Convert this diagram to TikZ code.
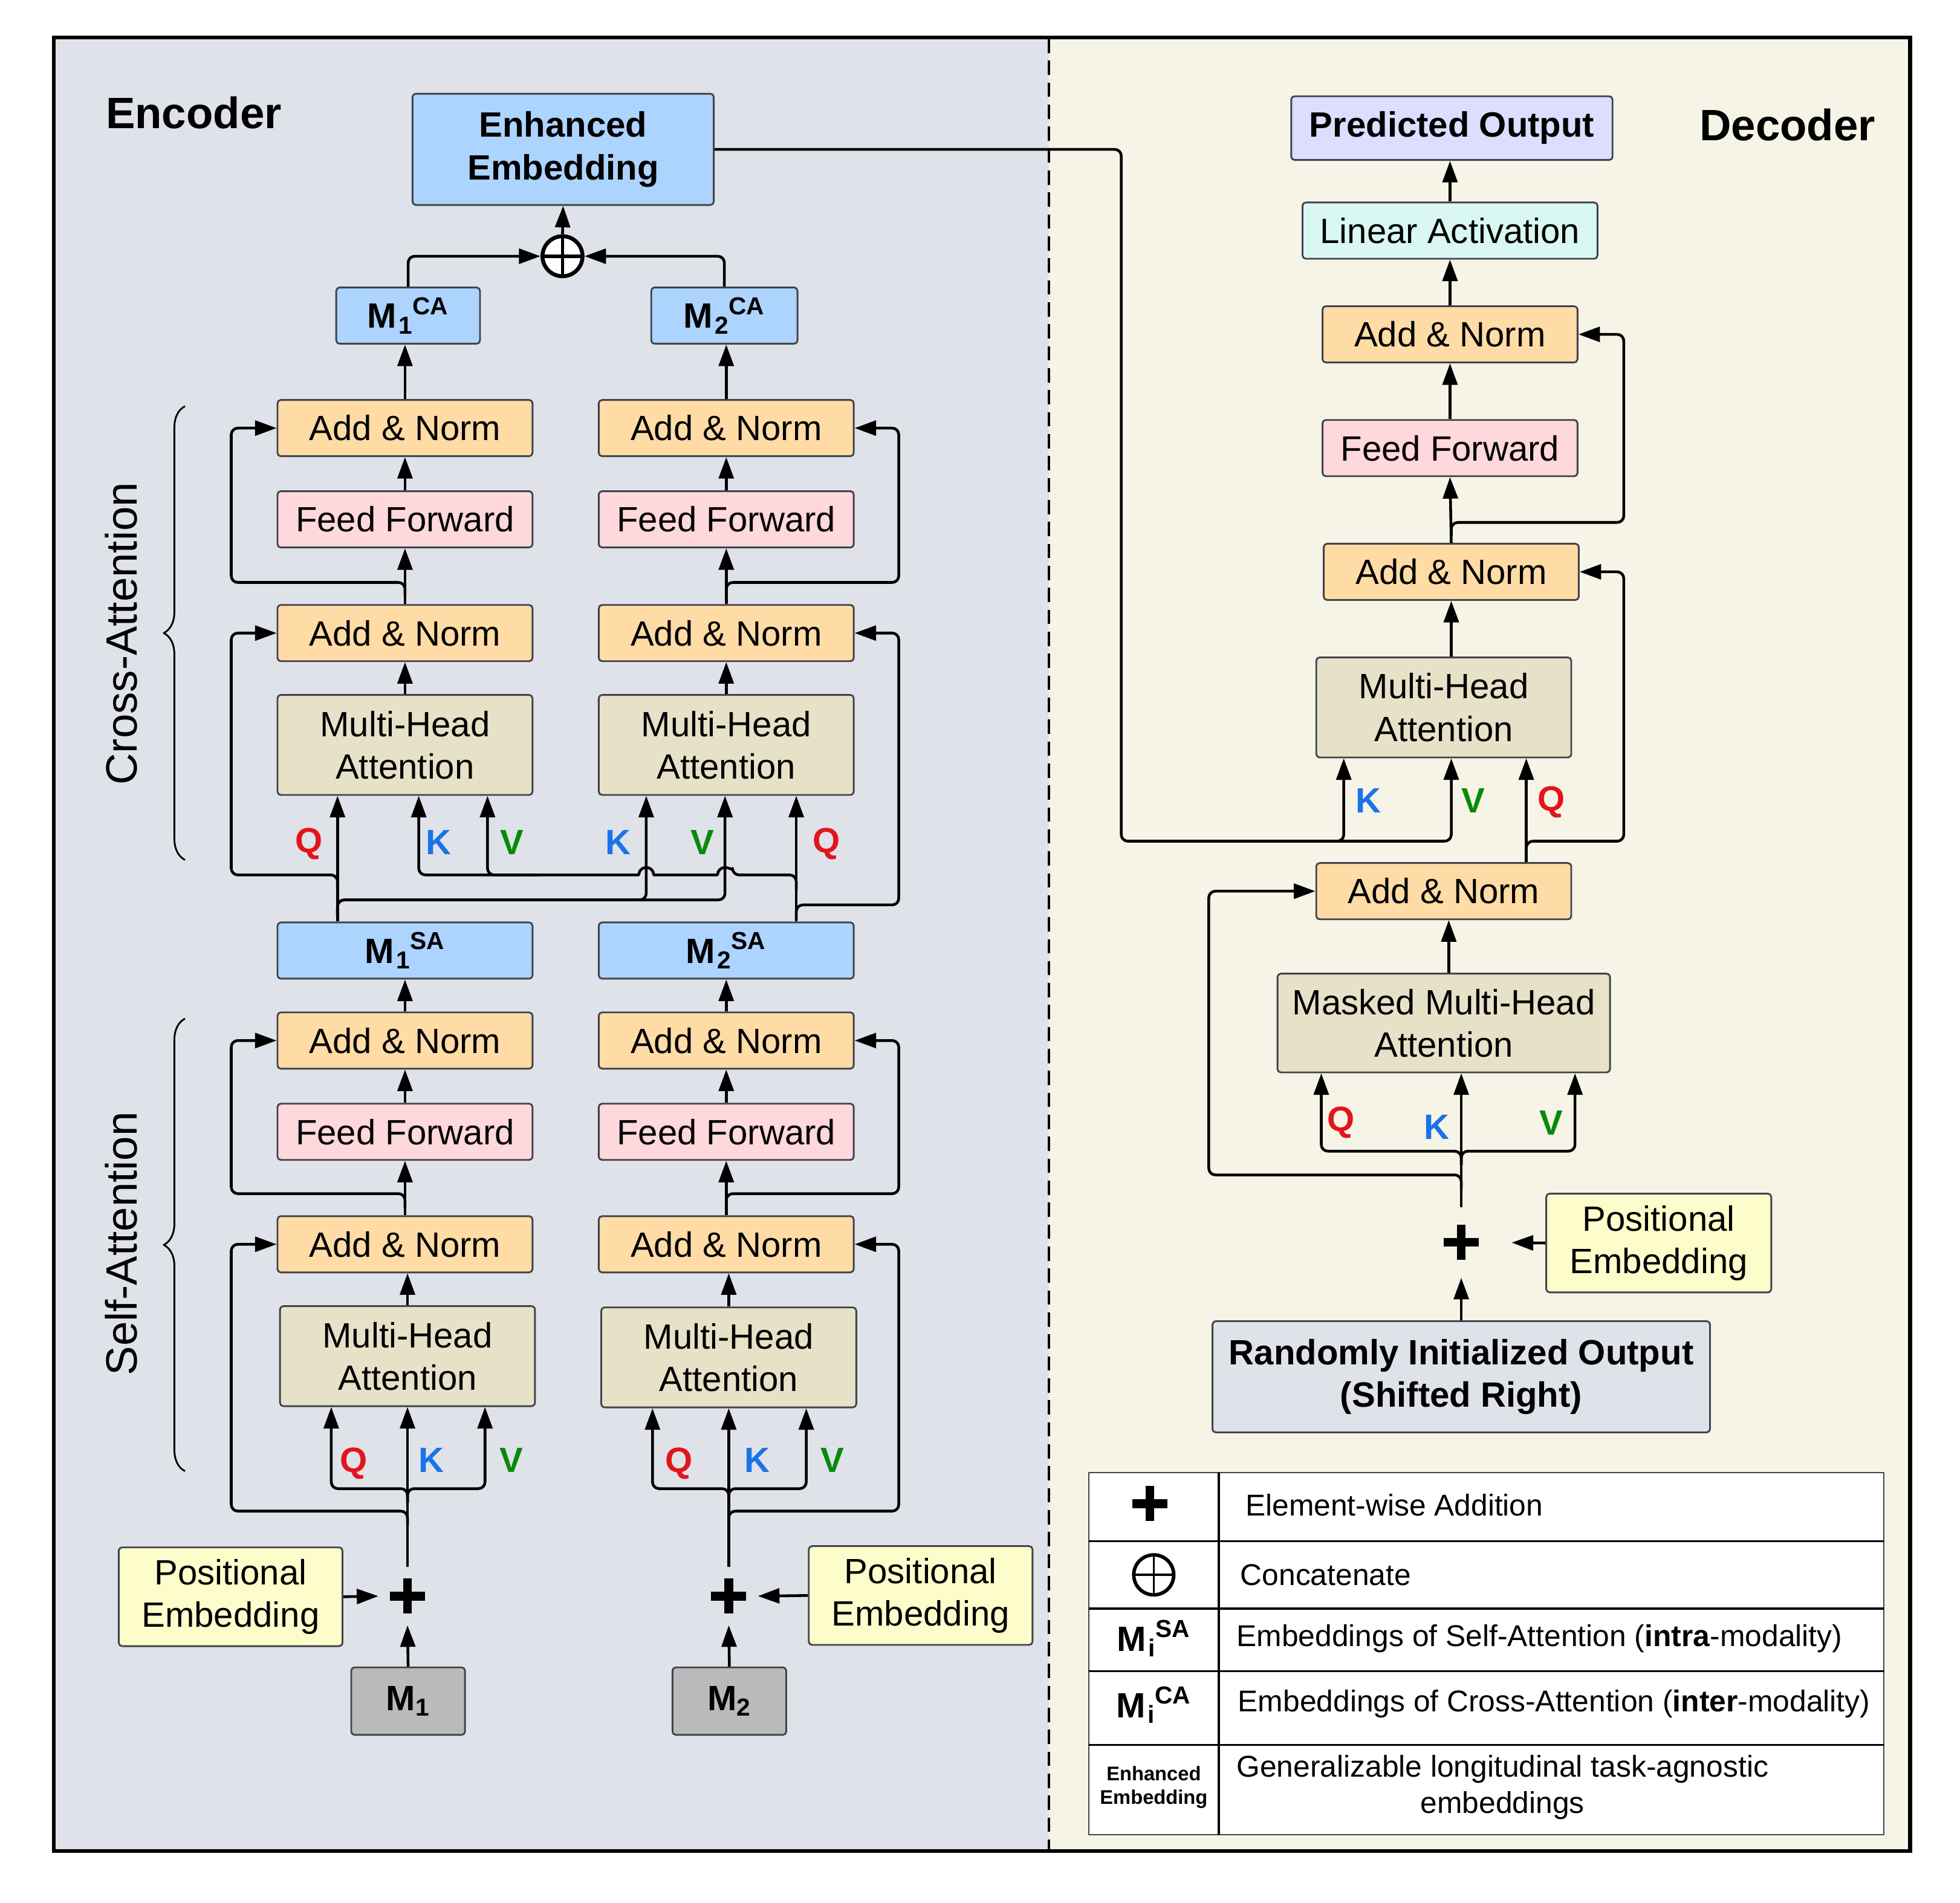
\documentclass[tikz,border=0pt]{standalone}
\usepackage{fontspec}
\setmainfont{Liberation Sans}
\usetikzlibrary{arrows.meta,decorations.pathreplacing,calc}
\definecolor{encbg}{HTML}{DFE2E8}
\definecolor{decbg}{HTML}{F6F4E6}
\definecolor{anorm}{HTML}{FFDCA5}
\definecolor{ffwd}{HTML}{FFD8DC}
\definecolor{mha}{HTML}{E7E1C8}
\definecolor{emb}{HTML}{ADD3FF}
\definecolor{pemb}{HTML}{FDFCCB}
\definecolor{modc}{HTML}{BABABA}
\definecolor{pred}{HTML}{DDDDFF}
\definecolor{lin}{HTML}{D9F8F1}
\definecolor{rio}{HTML}{DFE2E8}
\definecolor{qcol}{HTML}{E3141A}
\definecolor{kcol}{HTML}{1A73E8}
\definecolor{vcol}{HTML}{0A8A0A}
\definecolor{bord}{HTML}{40444C}
\newcommand{\fntbox}{\fontsize{16}{19.3}\selectfont}
\newcommand{\fnthead}{\fontsize{20}{24}\selectfont}
\newcommand{\fntleg}{\fontsize{13.7}{16.6}\selectfont}
\newcommand{\fntsmall}{\fontsize{9}{10.8}\selectfont}
\newcommand{\Mlab}[2]{M\kern0.06em\textsubscript{#1}\kern-0.02em\textsuperscript{#2}}
\newcommand{\plusmark}[1]{\fill (#1) ++(-14,-3.5) rectangle ++(28,7); \fill (#1) ++(-3.5,-14) rectangle ++(7,28);}
\tikzset{
  blk/.style={draw=bord, line width=0.8pt, rounded corners=1.5pt, inner sep=0pt, align=center, font=\fntbox, fill=#1},
  sz/.style 2 args={minimum width={#1*0.02cm}, minimum height={#2*0.02cm}},
  wire/.style={line width=1.25pt, rounded corners=3pt},
  arr/.style={wire, -{Triangle[length=9.8pt,width=6.8pt]}},
  lbl/.style={font=\bfseries\fntbox, inner sep=0pt, anchor=base},
  plusnd/.style={circle, minimum size={#1*0.02cm}, inner sep=0pt},
  catnode/.style={circle, draw, line width=1.8pt, fill=white, minimum size={32*0.02cm}, inner sep=0pt},
  brc/.style={line width=0.8pt, decorate, decoration={brace, amplitude=0.34cm}},
}
\begin{document}
\begin{tikzpicture}[x=0.02cm,y=-0.02cm,line join=round]
\fill[white] (0,0) rectangle (1568,1522.5);
\useasboundingbox (0,0) rectangle (1568,1522.5);
\fill[encbg] (43,30) rectangle (839,1481);
\fill[decbg] (839,30) rectangle (1528,1481);
\draw[line width=1pt, dash pattern=on 6.5pt off 3.5pt] (839,31) -- (839,1480);
\draw[line width=1.8pt, line join=miter] (43,30) rectangle (1528,1481);

\node[font=\bfseries\fnthead] (enc) at (155,90) {Encoder};
\node[font=\bfseries\fnthead] (dec) at (1430,100) {Decoder};

% ---------------- Encoder boxes
\node[blk=emb, sz={241}{89}, font=\bfseries\fntbox] (EE) at (450.5,119.5) {Enhanced\\Embedding};
\node[catnode] (cat) at (450,205) {};
\draw[line width=1.6pt] (cat.center) ++(0,-16) -- ++(0,32) (cat.center) ++(-16,0) -- ++(32,0);
\node[blk=emb, sz={115}{45}, font=\bfseries\fntbox] (M1CA) at (326.5,252.5) {\Mlab{1}{CA}};
\node[blk=emb, sz={117}{45}, font=\bfseries\fntbox] (M2CA) at (579.5,252.5) {\Mlab{2}{CA}};

\foreach \c/\x/\xm in {a/324/326, b/581/583} {
  \node[blk=anorm, sz={204}{45}] (caAN2\c) at (\x,342.5) {Add \& Norm};
  \node[blk=ffwd, sz={204}{45}] (caFF\c) at (\x,415.5) {Feed Forward};
  \node[blk=anorm, sz={204}{45}] (caAN1\c) at (\x,506.5) {Add \& Norm};
  \node[blk=mha, sz={204}{80}] (caMHA\c) at (\x,596) {Multi-Head\\Attention};
  \node[blk=anorm, sz={204}{45}] (saAN2\c) at (\x,832.5) {Add \& Norm};
  \node[blk=ffwd, sz={204}{45}] (saFF\c) at (\x,905.5) {Feed Forward};
  \node[blk=anorm, sz={204}{45}] (saAN1\c) at (\x,995.5) {Add \& Norm};
}
\node[blk=mha, sz={204}{80}] (saMHAa) at (326,1085) {Multi-Head\\Attention};
\node[blk=mha, sz={204}{80}] (saMHAb) at (583,1086) {Multi-Head\\Attention};
\node[blk=emb, sz={204}{45}, font=\bfseries\fntbox] (M1SA) at (324,760.5) {\Mlab{1}{SA}};
\node[blk=emb, sz={204}{45}, font=\bfseries\fntbox] (M2SA) at (581,760.5) {\Mlab{2}{SA}};
\node[blk=pemb, sz={179}{79}] (PE1) at (184.5,1277.5) {Positional\\Embedding};
\node[blk=pemb, sz={179}{79}] (PE2) at (736.5,1276.5) {Positional\\Embedding};
\node[plusnd=46] (p1) at (326,1277) {};
\node[plusnd=46] (p2) at (583,1277) {};
\plusmark{p1.center}
\plusmark{p2.center}
\node[blk=modc, sz={91}{54}, font=\bfseries\fntbox] (M1) at (326.5,1361) {M\textsubscript{1}};
\node[blk=modc, sz={91}{54}, font=\bfseries\fntbox] (M2) at (583.5,1361) {M\textsubscript{2}};

% braces and side labels
\draw[brc] (148,688) -- (148,325);
\draw[brc] (148,1177) -- (148,815);
\node[rotate=90, font=\fnthead] (calab) at (97,507) {Cross-Attention};
\node[rotate=90, font=\fnthead] (salab) at (97,995) {Self-Attention};

% ---------------- Self-attention wiring, column 1
\draw[arr] (M1.north) -- (p1.south);
\draw[arr] (PE1.east) -- (p1.west);
\draw[arr] (p1.north) -- (326,0 |- saMHAa.south);
\draw[arr] (326,1202) -- (326,1191) -- (265,1191) -- (265,0 |- saMHAa.south);
\draw[arr] (326,1202) -- (326,1191) -- (388,1191) -- (388,0 |- saMHAa.south);
\draw[arr] (326,1220) -- (326,1209) -- (185,1209) -- (185,0 |- saAN1a.west) -- (saAN1a.west);
\draw[arr] (saMHAa.north) -- (saMHAa.north |- saAN1a.south);
\draw[arr] (saAN1a.north) -- (saFFa.south);
\draw[arr] (324,966) -- (324,955) -- (185,955) -- (185,0 |- saAN2a.west) -- (saAN2a.west);
\draw[arr] (saFFa.north) -- (saAN2a.south);
\draw[arr] (saAN2a.north) -- (M1SA.south);
% column 2
\draw[arr] (M2.north) -- (p2.south);
\draw[arr] (PE2.west) -- (p2.east);
\draw[arr] (p2.north) -- (583,0 |- saMHAb.south);
\draw[arr] (583,1202) -- (583,1191) -- (522,1191) -- (522,0 |- saMHAb.south);
\draw[arr] (583,1202) -- (583,1191) -- (645,1191) -- (645,0 |- saMHAb.south);
\draw[arr] (583,1220) -- (583,1209) -- (719,1209) -- (719,0 |- saAN1b.east) -- (saAN1b.east);
\draw[arr] (saMHAb.north) -- (saMHAb.north |- saAN1b.south);
\draw[arr] (saAN1b.north) -- (saFFb.south);
\draw[arr] (581,966) -- (581,955) -- (719,955) -- (719,0 |- saAN2b.east) -- (saAN2b.east);
\draw[arr] (saFFb.north) -- (saAN2b.south);
\draw[arr] (saAN2b.north) -- (M2SA.south);

% SA labels
\node[lbl, text=qcol] (sq1) at (283,1178) {Q};
\node[lbl, text=kcol] (sk1) at (345,1178) {K};
\node[lbl, text=vcol] (sv1) at (409,1178) {V};
\node[lbl, text=qcol] (sq2) at (543,1178) {Q};
\node[lbl, text=kcol] (sk2) at (606,1178) {K};
\node[lbl, text=vcol] (sv2) at (666,1178) {V};

% ---------------- Cross-attention wiring
\draw[arr] (270,0 |- M1SA.north) -- (270,0 |- caMHAa.south);
\draw[arr] (270,712) -- (270,700) -- (185,700) -- (185,0 |- caAN1a.west) -- (caAN1a.west);
\draw[arr] (270,732) -- (270,720) -- (580,720) -- (580,0 |- caMHAb.south);
\draw[arr] (270,732) -- (270,720) -- (517,720) -- (517,0 |- caMHAb.south);
\draw[arr] (637,0 |- M2SA.north) -- (637,0 |- caMHAb.south);
\draw[arr] (637,736) -- (637,724) -- (719,724) -- (719,0 |- caAN1b.east) -- (caAN1b.east);
\draw[wire] (637,712) -- (637,700) -- (586,700) [sharp corners] arc[start angle=0, end angle=180, radius=0.12cm] -- (523,700) arc[start angle=0, end angle=180, radius=0.12cm] -- (420,700);
\draw[arr] (430,700) -- (335,700) -- (335,0 |- caMHAa.south);
\draw[arr] (420,700) -- (390,700) -- (390,0 |- caMHAa.south);
\draw[arr] (caMHAa.north) -- (caAN1a.south);
\draw[arr] (caMHAb.north) -- (caAN1b.south);
\draw[arr] (caAN1a.north) -- (caFFa.south);
\draw[arr] (caAN1b.north) -- (caFFb.south);
\draw[arr] (324,477) -- (324,466) -- (185,466) -- (185,0 |- caAN2a.west) -- (caAN2a.west);
\draw[arr] (581,477) -- (581,466) -- (719,466) -- (719,0 |- caAN2b.east) -- (caAN2b.east);
\draw[arr] (caFFa.north) -- (caAN2a.south);
\draw[arr] (caFFb.north) -- (caAN2b.south);
\draw[arr] (caAN2a.north) -- (caAN2a.north |- M1CA.south);
\draw[arr] (caAN2b.north) -- (caAN2b.north |- M2CA.south);
\draw[arr] (M1CA.north) -- (M1CA.north |- cat.west) -- (cat.west);
\draw[arr] (M2CA.north) -- (M2CA.north |- cat.east) -- (cat.east);
\draw[arr] (cat.north) -- (EE.south);

% CA labels
\node[lbl, text=qcol] (cq1) at (247,682) {Q};
\node[lbl, text=kcol] (ck1) at (351,683.5) {K};
\node[lbl, text=vcol] (cv1) at (409.5,683.5) {V};
\node[lbl, text=kcol] (ck2) at (494.5,683.5) {K};
\node[lbl, text=vcol] (cv2) at (562,683.5) {V};
\node[lbl, text=qcol] (cq2) at (661,682) {Q};

% ---------------- Decoder boxes
\node[blk=pred, sz={257}{51}, font=\bfseries\fntbox] (PO) at (1161.5,102.5) {Predicted Output};
\node[blk=lin, sz={236}{45}] (LA) at (1160,184.5) {Linear Activation};
\node[blk=anorm, sz={204}{45}] (dAN3) at (1160,267.5) {Add \& Norm};
\node[blk=ffwd, sz={204}{45}] (dFF) at (1160,358.5) {Feed Forward};
\node[blk=anorm, sz={204}{45}] (dAN2) at (1161,457.5) {Add \& Norm};
\node[blk=mha, sz={204}{80}] (dMHA) at (1155,566) {Multi-Head\\Attention};
\node[blk=anorm, sz={204}{45}] (dAN1) at (1155,713) {Add \& Norm};
\node[blk=mha, sz={266}{79}] (dMMHA) at (1155,818.5) {Masked Multi-Head\\Attention};
\node[blk=pemb, sz={180}{79}] (dPE) at (1327,994.5) {Positional\\Embedding};
\node[blk=rio, sz={398}{89}, font=\bfseries\fntbox] (RIO) at (1169,1101.5) {Randomly Initialized Output\\(Shifted Right)};
\node[plusnd=56] (dp) at (1169,994) {};
\plusmark{dp.center}

% ---------------- Decoder wiring
\draw[arr] (RIO.north) -- (dp.south);
\draw[arr, shorten >=0.24cm] (dPE.west) -- (dp.east);
\draw[arr] (dp.north) -- (1169,0 |- dMMHA.south);
\draw[arr] (1169,932) -- (1169,921) -- (1057,921) -- (1057,0 |- dMMHA.south);
\draw[arr] (1169,932) -- (1169,921) -- (1260,921) -- (1260,0 |- dMMHA.south);
\draw[arr] (1169,951) -- (1169,940) -- (967,940) -- (967,0 |- dAN1.west) -- (dAN1.west);
\draw[arr] (1159,0 |- dMMHA.north) -- (1159,0 |- dAN1.south);
\draw[arr] (EE.east) -- (897,0 |- EE.east) -- (897,673) -- (1161,673) -- (1161,0 |- dMHA.south);
\draw[arr] (1040,673) -- (1075,673) -- (1075,0 |- dMHA.south);
\draw[arr] (1221,0 |- dAN1.north) -- (1221,0 |- dMHA.south);
\draw[arr] (1221,684) -- (1221,673) -- (1299,673) -- (1299,0 |- dAN2.east) -- (dAN2.east);
\draw[arr] (1161,0 |- dMHA.north) -- (1161,0 |- dAN2.south);
\draw[arr] (dAN2.north) -- (dFF.south);
\draw[arr] (1161,429) -- (1161,418) -- (1299,418) -- (1299,0 |- dAN3.east) -- (dAN3.east);
\draw[arr] (dFF.north) -- (dAN3.south);
\draw[arr] (dAN3.north) -- (LA.south);
\draw[arr] (LA.north) -- (LA.north |- PO.south);

% decoder labels
\node[lbl, text=kcol] (dk) at (1094.5,650.5) {K};
\node[lbl, text=vcol] (dv) at (1178.5,650.5) {V};
\node[lbl, text=qcol] (dq) at (1241,649) {Q};
\node[lbl, text=qcol] (mq) at (1073,905) {Q};
\node[lbl, text=kcol] (mk) at (1149.5,911.5) {K};
\node[lbl, text=vcol] (mv) at (1241,908) {V};

% ---------------- Legend
\draw[line width=0.5pt, draw=bord, fill=white] (871,1178) rectangle (1507,1468);
\foreach \yy in {1233,1287,1337,1396} { \draw[line width=1pt] (871,\yy) -- (1507,\yy); }
\draw[line width=1pt] (975,1178) -- (975,1468);
\node[plusnd=30] (lgp) at (920,1203) {};
\plusmark{lgp.center}
\node[circle, draw, line width=1.6pt, minimum size={32*0.02cm}, inner sep=0pt] (lgc) at (923,1260) {};
\draw[line width=1pt] (lgc.center) ++(0,-16) -- ++(0,32) (lgc.center) ++(-16,0) -- ++(32,0);
\node[font=\bfseries\fntbox] (lgsa) at (923,1311) {\Mlab{i}{SA}};
\node[font=\bfseries\fntbox] (lgca) at (923,1364) {\Mlab{i}{CA}};
\node[font=\bfseries\fntsmall, align=center] (lgee) at (923,1430) {Enhanced\\Embedding};
\node[anchor=west, font=\fntleg, inner sep=0pt] (lg1) at (996,1204) {Element-wise Addition};
\node[anchor=west, font=\fntleg, inner sep=0pt] (lg2) at (992,1260) {Concatenate};
\node[anchor=west, font=\fntleg, inner sep=0pt] (lg3) at (989,1311) {Embeddings of Self-Attention (\textbf{intra}-modality)};
\node[anchor=west, font=\fntleg, inner sep=0pt] (lg4) at (990,1363) {Embeddings of Cross-Attention (\textbf{inter}-modality)};
\node[align=center, font=\fntleg, inner sep=0pt] (lg5) at (1202,1430) {Generalizable longitudinal task-agnostic\\embeddings};
\end{tikzpicture}
\end{document}
